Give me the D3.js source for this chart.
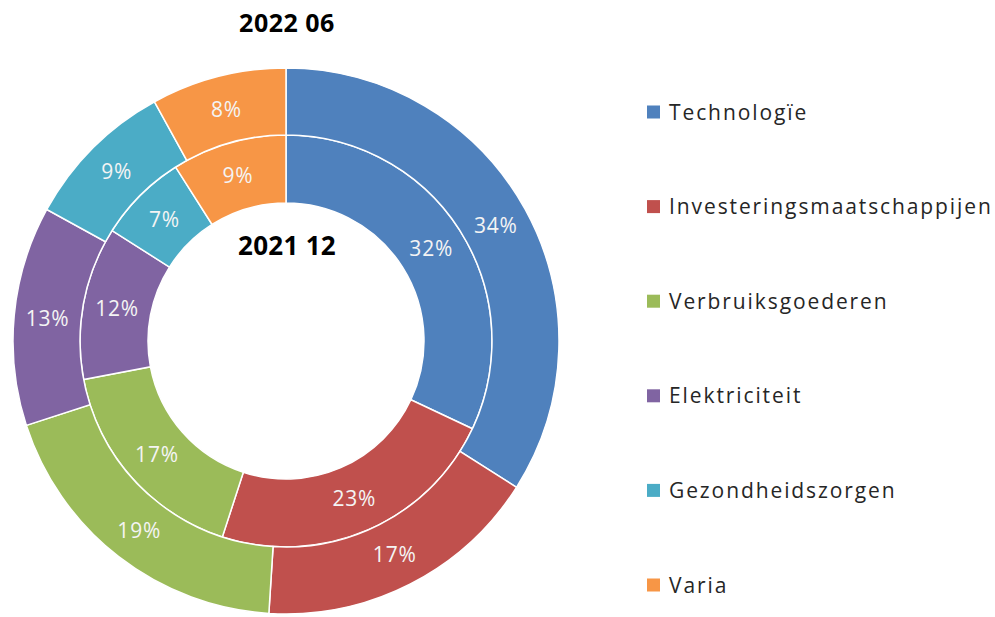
<!DOCTYPE html>
<html>
<head>
<meta charset="utf-8">
<script src="https://cdn.jsdelivr.net/npm/d3@7"></script>
<style>
  body { margin: 0; background: #fff; }
</style>
</head>
<body>
<div id="chart"></div>
<script>
const categories = ["Technologïe", "Investeringsmaatschappijen", "Verbruiksgoederen", "Elektriciteit", "Gezondheidszorgen", "Varia"];
const colors = ["#4f81bd", "#c0504d", "#9bbb59", "#8064a2", "#4bacc6", "#f79646"];
const values2022 = [34, 17, 19, 13, 9, 8];   // outer ring, 2022 06
const values2021 = [32, 23, 17, 12, 7, 9];   // inner ring, 2021 12
const outerTitle = "2022 06";
const innerTitle = "2021 12";

const width = 995;
const height = 617;
const cx = 286, cy = 341;
const rings = [
    { values: values2021, inner: 138, outer: 206 },
    { values: values2022, inner: 206, outer: 273 }
];

const svg = d3.select("#chart")
    .append("svg")
    .attr("width", width)
    .attr("height", height)
    .style("font-family", "'Open Sans', sans-serif");

const color = d3.scaleOrdinal().domain(categories).range(colors);

const pie = d3.pie()
    .sort(null)
    .value(d => d.value);

const g = svg.append("g")
    .attr("transform", `translate(${cx},${cy})`);

rings.forEach(ring => {
    const arc = d3.arc()
        .innerRadius(ring.inner)
        .outerRadius(ring.outer);
    const arcs = pie(categories.map((c, i) => ({ name: c, value: ring.values[i] })));

    const ringG = g.append("g");
    ringG.selectAll("path")
        .data(arcs)
        .join("path")
        .attr("d", arc)
        .attr("fill", d => color(d.data.name))
        .attr("stroke", "#fff")
        .attr("stroke-width", 1.5);

    ringG.selectAll("text")
        .data(arcs)
        .join("text")
        .attr("transform", d => `translate(${arc.centroid(d)})`)
        .attr("text-anchor", "middle")
        .attr("dy", "0.36em")
        .attr("fill", "#f4f4f4")
        .attr("font-size", 21)
        .attr("letter-spacing", 0.8)
        .text(d => `${d.data.value}%`);
});

// titles
svg.append("text")
    .attr("x", cx + 1)
    .attr("y", 32)
    .attr("text-anchor", "middle")
    .attr("font-size", 25)
    .attr("font-weight", 700)
    .attr("letter-spacing", 0.5)
    .text(outerTitle);

svg.append("text")
    .attr("x", cx + 1)
    .attr("y", 255)
    .attr("text-anchor", "middle")
    .attr("font-size", 26)
    .attr("font-weight", 700)
    .attr("letter-spacing", 0.3)
    .text(innerTitle);

// legend
const legendY = d3.scalePoint()
    .domain(categories)
    .range([112, 585]);

const legend = svg.append("g")
    .selectAll("g")
    .data(categories)
    .join("g")
    .attr("transform", d => `translate(647,${legendY(d)})`);

legend.append("rect")
    .attr("x", 0)
    .attr("y", -6.5)
    .attr("width", 13)
    .attr("height", 13)
    .attr("fill", d => color(d));

legend.append("text")
    .attr("x", 22)
    .attr("dy", "0.36em")
    .attr("font-size", 21)
    .attr("letter-spacing", 1.9)
    .attr("fill", "#262626")
    .text(d => d);
</script>
</body>
</html>
